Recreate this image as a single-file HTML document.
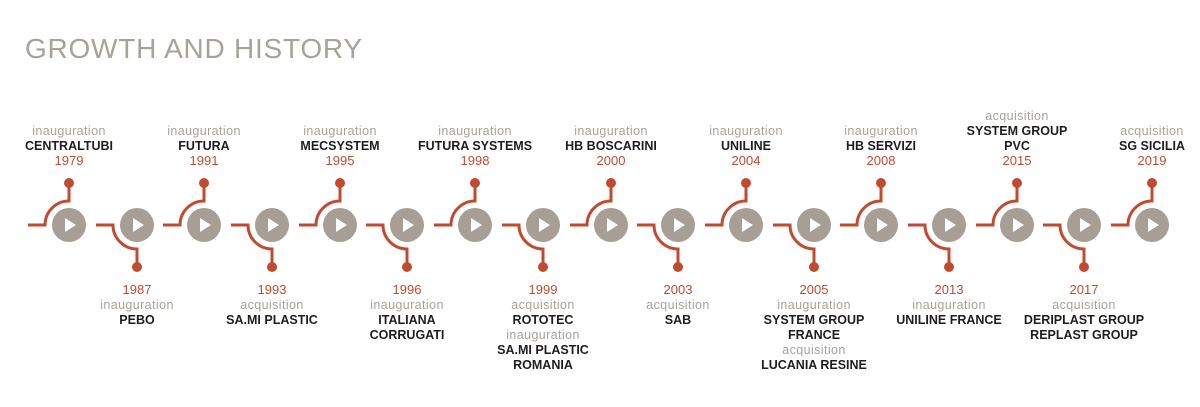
<!DOCTYPE html>
<html><head><meta charset="utf-8"><style>
html,body{margin:0;padding:0;background:#fff;}
svg{display:block;}
text{font-family:"Liberation Sans",sans-serif;text-anchor:middle;}
.t{font-size:12.5px;fill:#a8a29c;letter-spacing:0.4px;}
.n{font-size:12.5px;font-weight:bold;fill:#1e1e1e;}
.y{font-size:13px;fill:#c14b31;}
.ln{fill:none;stroke:#c14b31;stroke-width:3;}
.c{fill:#a79e95;}
.d{fill:#c14b31;}
.p{fill:#fff;}
</style></head><body>
<svg width="1200" height="407" viewBox="0 0 1200 407" xmlns="http://www.w3.org/2000/svg">
<text x="25" y="58" style="font-size:28px;fill:#a8a29c;text-anchor:start" textLength="337">GROWTH AND HISTORY</text>
<defs>
<g id="up"><path class="ln" d="M-41 225 H-24 A24 24 0 0 1 0 201 V183"/><circle class="d" cx="0" cy="183" r="5"/><circle class="c" cx="0" cy="225" r="17"/><path class="p" d="M-4 218 L7 225 L-4 232 Z"/></g>
<g id="dn"><path class="ln" d="M-41 225 H-24 A24 24 0 0 0 0 249 V267"/><circle class="d" cx="0" cy="267" r="5"/><circle class="c" cx="0" cy="225" r="17"/><path class="p" d="M-4 218 L7 225 L-4 232 Z"/></g>
</defs>
<use href="#up" x="69"/><use href="#dn" x="137"/><use href="#up" x="204"/><use href="#dn" x="272"/>
<use href="#up" x="340"/><use href="#dn" x="407"/><use href="#up" x="475"/><use href="#dn" x="543"/>
<use href="#up" x="611"/><use href="#dn" x="678"/><use href="#up" x="746"/><use href="#dn" x="814"/>
<use href="#up" x="881"/><use href="#dn" x="949"/><use href="#up" x="1017"/><use href="#dn" x="1084"/>
<use href="#up" x="1152"/>

<text class="t" x="69" y="135">inauguration</text><text class="n" x="69" y="150">CENTRALTUBI</text><text class="y" x="69" y="165">1979</text>
<text class="t" x="204" y="135">inauguration</text><text class="n" x="204" y="150">FUTURA</text><text class="y" x="204" y="165">1991</text>
<text class="t" x="340" y="135">inauguration</text><text class="n" x="340" y="150">MECSYSTEM</text><text class="y" x="340" y="165">1995</text>
<text class="t" x="475" y="135">inauguration</text><text class="n" x="475" y="150">FUTURA SYSTEMS</text><text class="y" x="475" y="165">1998</text>
<text class="t" x="611" y="135">inauguration</text><text class="n" x="611" y="150">HB BOSCARINI</text><text class="y" x="611" y="165">2000</text>
<text class="t" x="746" y="135">inauguration</text><text class="n" x="746" y="150">UNILINE</text><text class="y" x="746" y="165">2004</text>
<text class="t" x="881" y="135">inauguration</text><text class="n" x="881" y="150">HB SERVIZI</text><text class="y" x="881" y="165">2008</text>
<text class="t" x="1017" y="120">acquisition</text><text class="n" x="1017" y="135">SYSTEM GROUP</text><text class="n" x="1017" y="150">PVC</text><text class="y" x="1017" y="165">2015</text>
<text class="t" x="1152" y="135">acquisition</text><text class="n" x="1152" y="150">SG SICILIA</text><text class="y" x="1152" y="165">2019</text>

<text class="y" x="137" y="294">1987</text><text class="t" x="137" y="309">inauguration</text><text class="n" x="137" y="324">PEBO</text>
<text class="y" x="272" y="294">1993</text><text class="t" x="272" y="309">acquisition</text><text class="n" x="272" y="324">SA.MI PLASTIC</text>
<text class="y" x="407" y="294">1996</text><text class="t" x="407" y="309">inauguration</text><text class="n" x="407" y="324">ITALIANA</text><text class="n" x="407" y="339">CORRUGATI</text>
<text class="y" x="543" y="294">1999</text><text class="t" x="543" y="309">acquisition</text><text class="n" x="543" y="324">ROTOTEC</text><text class="t" x="543" y="339">inauguration</text><text class="n" x="543" y="354">SA.MI PLASTIC</text><text class="n" x="543" y="369">ROMANIA</text>
<text class="y" x="678" y="294">2003</text><text class="t" x="678" y="309">acquisition</text><text class="n" x="678" y="324">SAB</text>
<text class="y" x="814" y="294">2005</text><text class="t" x="814" y="309">inauguration</text><text class="n" x="814" y="324">SYSTEM GROUP</text><text class="n" x="814" y="339">FRANCE</text><text class="t" x="814" y="354">acquisition</text><text class="n" x="814" y="369">LUCANIA RESINE</text>
<text class="y" x="949" y="294">2013</text><text class="t" x="949" y="309">inauguration</text><text class="n" x="949" y="324">UNILINE FRANCE</text>
<text class="y" x="1084" y="294">2017</text><text class="t" x="1084" y="309">acquisition</text><text class="n" x="1084" y="324">DERIPLAST GROUP</text><text class="n" x="1084" y="339">REPLAST GROUP</text>
</svg>
</body></html>
